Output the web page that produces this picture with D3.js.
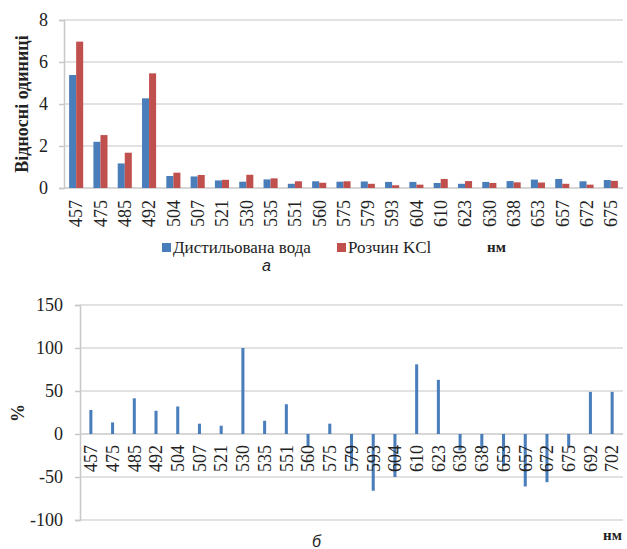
<!DOCTYPE html>
<html>
<head>
<meta charset="utf-8">
<script src="https://cdn.jsdelivr.net/npm/d3@7"></script>
<style>
  body { margin: 0; background: #fff; }
  svg { display: block; }
</style>
</head>
<body>
<svg width="627" height="549"></svg>
<script>
// top chart: wavelengths and two series
var wavesTop = ["457","475","485","492","504","507","521","530","535","551","560","575",
                "579","593","604","610","623","630","638","653","657","672","675"];
var water = [5.38, 2.2, 1.17, 4.27, 0.57, 0.55, 0.36, 0.3, 0.41, 0.2, 0.32, 0.3,
             0.31, 0.29, 0.29, 0.24, 0.2, 0.29, 0.33, 0.4, 0.43, 0.32, 0.38];
var kcl = [6.97, 2.52, 1.68, 5.46, 0.73, 0.62, 0.39, 0.63, 0.46, 0.32, 0.25, 0.32,
           0.2, 0.13, 0.16, 0.43, 0.33, 0.24, 0.27, 0.26, 0.2, 0.16, 0.34];
var seriesNames = ["Дистильована вода", "Розчин KCl"];
var seriesColors = ["#4a7ebb", "#c0504d"];
var topTicks = [0, 2, 4, 6, 8];

// bottom chart: percent difference
var wavesBottom = ["457","475","485","492","504","507","521","530","535","551","560","575",
                   "579","593","604","610","623","630","638","653","657","672","675","692","702"];
var diff = [28, 13.5, 41.5, 27, 32, 12, 9.6, 100, 15.4, 34.6, -15, 12,
            -37, -66, -50, 81, 63, -19, -17, -37, -61, -56, -15, 49, 49];
var bottomTicks = [-100, -50, 0, 50, 100, 150];

var svg = d3.select("svg");
var grid = "#d9d9d9";
var serif = "'Liberation Serif', 'Times New Roman', serif";

function styleText(sel, size) {
    sel.style("font-family", serif).style("font-size", size + "px").attr("fill", "#222");
}

// ---------- top chart ----------
var x1 = d3.scaleBand().domain(wavesTop).range([64, 623]).paddingInner(0.42).paddingOuter(0.21);
var xs = d3.scaleBand().domain([0, 1]).range([0, x1.bandwidth()]);
var y1 = d3.scaleLinear().domain([0, 8]).range([188, 20]);

var topG = svg.append("g");
topG.selectAll(".grid").data(topTicks).enter().append("line")
    .attr("x1", 64).attr("x2", 623)
    .attr("y1", function(d) { return y1(d); }).attr("y2", function(d) { return y1(d); })
    .attr("stroke", function(d) { return d === 0 ? "#c8c8c8" : grid; })
    .attr("stroke-width", 1.5);

topG.append("g").attr("transform", "translate(64,0)")
    .call(d3.axisLeft(y1).tickValues(topTicks).tickSize(5).tickPadding(11)
          .tickFormat(function(d) { return String(d); }))
    .call(function(g) {
        g.select(".domain").attr("stroke", "#c8c8c8").attr("stroke-width", 1.5);
        g.selectAll("line").attr("stroke", "#c8c8c8").attr("stroke-width", 1.5);
        styleText(g.selectAll("text"), 18);
    });

var groups = topG.selectAll(".grp").data(wavesTop).enter().append("g")
    .attr("transform", function(d) { return "translate(" + x1(d) + ",0)"; });
groups.selectAll("rect").data(function(d, i) { return [water[i], kcl[i]]; })
    .enter().append("rect")
    .attr("x", function(d, j) { return xs(j); })
    .attr("width", xs.bandwidth())
    .attr("y", function(d) { return y1(d); })
    .attr("height", function(d) { return y1(0) - y1(d); })
    .attr("fill", function(d, j) { return seriesColors[j]; });

topG.append("g").attr("transform", "translate(0,188)")
    .call(d3.axisBottom(x1).tickSize(0))
    .call(function(g) {
        g.select(".domain").remove();
        g.selectAll("text")
            .attr("transform", "rotate(-90)")
            .attr("text-anchor", "end")
            .attr("x", -12).attr("y", 0).attr("dy", "0.35em");
        styleText(g.selectAll("text"), 18);
    });

styleText(topG.append("text")
    .attr("transform", "translate(28,104) rotate(-90)")
    .attr("text-anchor", "middle")
    .style("font-weight", "bold")
    .text("Відносні одиниці"), 18);

// legend
var leg = topG.selectAll(".leg").data(seriesNames).enter().append("g")
    .attr("transform", function(d, i) { return "translate(" + [162, 337][i] + ",243)"; });
leg.append("rect").attr("width", 9).attr("height", 9)
    .attr("fill", function(d, i) { return seriesColors[i]; });
styleText(leg.append("text").attr("x", 11).attr("y", 9.5).text(function(d) { return d; }), 17);

styleText(topG.append("text").attr("x", 487).attr("y", 252)
    .style("font-weight", "bold").text("нм"), 15);
topG.append("text").attr("x", 262).attr("y", 271)
    .style("font-size", "16px").style("font-style", "italic")
    .style("font-family", "'Liberation Sans', Arial, sans-serif").attr("fill", "#222").text("а");

// ---------- bottom chart ----------
var x2 = d3.scaleBand().domain(wavesBottom).range([80, 623]).paddingInner(0.86).paddingOuter(0.43);
var y2 = d3.scaleLinear().domain([-100, 150]).range([520, 305]);

var bot = svg.append("g");
bot.selectAll(".grid").data(bottomTicks).enter().append("line")
    .attr("x1", 80).attr("x2", 623)
    .attr("y1", function(d) { return y2(d); }).attr("y2", function(d) { return y2(d); })
    .attr("stroke", function(d) { return d === 0 ? "#c8c8c8" : grid; })
    .attr("stroke-width", 1.5);

bot.append("g").attr("transform", "translate(80,0)")
    .call(d3.axisLeft(y2).tickValues(bottomTicks).tickSize(5).tickPadding(12)
          .tickFormat(function(d) { return String(d); }))
    .call(function(g) {
        g.select(".domain").attr("stroke", "#c8c8c8").attr("stroke-width", 1.5);
        g.selectAll("line").attr("stroke", "#c8c8c8").attr("stroke-width", 1.5);
        styleText(g.selectAll("text"), 18);
    });

bot.selectAll(".bar").data(diff).enter().append("rect")
    .attr("x", function(d, i) { return x2(wavesBottom[i]); })
    .attr("width", x2.bandwidth())
    .attr("y", function(d) { return y2(Math.max(0, d)); })
    .attr("height", function(d) { return Math.abs(y2(d) - y2(0)); })
    .attr("fill", "#4a7ebb");

bot.append("g").attr("transform", "translate(0," + y2(0) + ")")
    .call(d3.axisBottom(x2).tickSize(0))
    .call(function(g) {
        g.select(".domain").remove();
        g.selectAll("text")
            .attr("transform", "rotate(-90)")
            .attr("text-anchor", "end")
            .attr("x", -11).attr("y", 0).attr("dy", "0.35em");
        styleText(g.selectAll("text"), 18);
    });

styleText(bot.append("text")
    .attr("transform", "translate(24,413) rotate(-90)")
    .attr("text-anchor", "middle")
    .style("font-weight", "bold")
    .text("%"), 18);

styleText(bot.append("text").attr("x", 603).attr("y", 540)
    .style("font-weight", "bold").text("нм"), 15);
bot.append("text").attr("x", 312).attr("y", 547)
    .style("font-size", "16px").style("font-style", "italic")
    .style("font-family", "'Liberation Sans', Arial, sans-serif").attr("fill", "#222").text("б");
</script>
</body>
</html>
